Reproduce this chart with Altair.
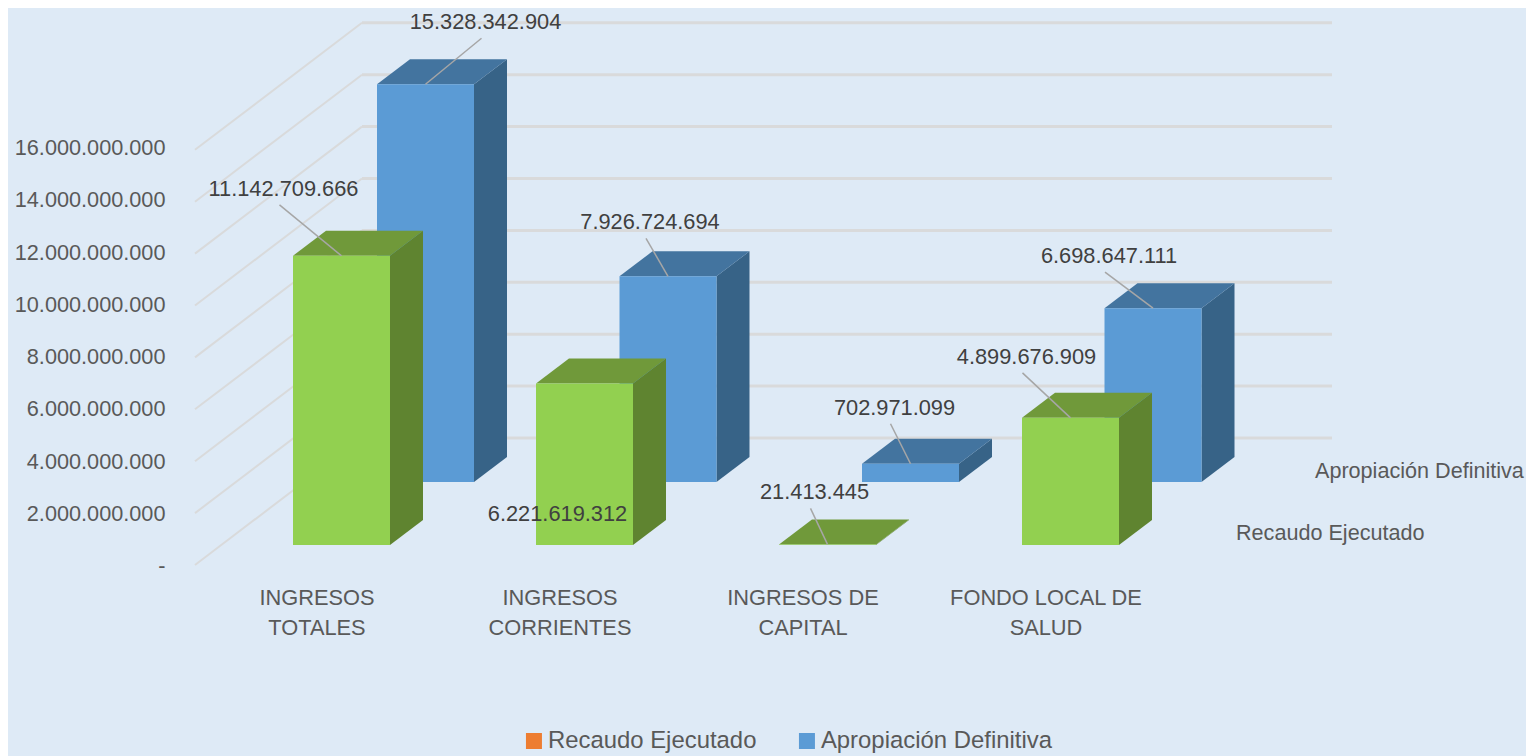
import altair as alt
import pandas as pd

# ---- values ----
categories = ["INGRESOS\nTOTALES", "INGRESOS\nCORRIENTES", "INGRESOS DE\nCAPITAL", "FONDO LOCAL DE\nSALUD"]
recaudo = [11142709666, 6221619312, 21413445, 4899676909]
apropiacion = [15328342904, 7926724694, 702971099, 6698647111]
series_names = ["Recaudo Ejecutado", "Apropiación Definitiva"]
grid_levels = [0, 2e9, 4e9, 6e9, 8e9, 10e9, 12e9, 14e9, 16e9]

# ---- layout (page pixels) ----
FONT = "Liberation Sans"
X0, X1, Y0, Y1 = 170, 1526, 8, 756
PX = 51.9 / 2e9          # pixels per peso for bars / grid
AXIS_PX = 52.25 / 2e9    # pixels per peso for axis labels
FLOOR = 565              # page y of value zero at the front edge of the floor
def lift(page_y):        # height above the floor line, in value units
    return (FLOOR - page_y) / PX

y_scale = alt.Scale(domain=[lift(Y1), lift(Y0)], nice=False, zero=False)
x_scale = alt.Scale(domain=[X0, X1], nice=False, zero=False)
axis_scale = alt.Scale(domain=[(FLOOR - Y1) / AXIS_PX, (FLOOR - Y0) / AXIS_PX], nice=False, zero=False)

X = lambda f="x": alt.X(f"{f}:Q", scale=x_scale, axis=None)
Y = lambda f="y": alt.Y(f"{f}:Q", scale=y_scale, axis=None)

BAR_W, DX, DY = 97, 33, 25
STEP = {"g": 243, "b": 242.5}
front_left = {"g": 293, "b": 377}
base_y = {"g": 545, "b": 482}
colors = {
    "g": ("#92D050", "#70993A", "#5F8430"),
    "b": ("#5B9BD5", "#43749F", "#376387"),
}
# label centre relative to bar top-centre, then whether a leader is drawn
label_off = {
    ("b", 0): (60, -62, True), ("g", 0): (-58, -67, True),
    ("b", 1): (-18, -54, True), ("g", 1): (-27, 130, False),
    ("b", 2): (-16, -56, True), ("g", 2): (-13, -52, True),
    ("b", 3): (-44, -52, True), ("g", 3): (-44, -61, True),
}

fmt = lambda v: f"{v:,}".replace(",", ".")

fronts, sides, tops, labels, leaders = {"g": [], "b": []}, {"g": [], "b": []}, {"g": [], "b": []}, [], []
for key, vals in (("b", apropiacion), ("g", recaudo)):
    for i, v in enumerate(vals):
        xl = front_left[key] + i * STEP[key]
        xr = xl + BAR_W
        base = lift(base_y[key])
        top = base + v
        d = DY / PX
        fronts[key].append(dict(x=xl, x2=xr, y=base, y2=top))
        sides[key] += [dict(bar=i, x=xr, y=top, y2=base), dict(bar=i, x=xr + DX, y=top + d, y2=base + d)]
        tops[key] += [dict(bar=i, x=xl, x2=xr, y=top), dict(bar=i, x=xl + DX, x2=xr + DX, y=top + d)]
        ox, oy, has_leader = label_off[(key, i)]
        cx = (xl + xr) / 2
        labels.append(dict(x=cx + ox, y=top - oy / PX, t=fmt(v)))
        if has_leader:
            leaders.append(dict(x=cx + ox - 4, y=top - (oy + 16) / PX, x2=cx, y2=top))

layers = []

# floor / wall grid lines
WALL_L, WALL_R, BACK_UP, FLOOR_L = 362, 1332, 127, 195
wall = pd.DataFrame([dict(x=WALL_L, x2=WALL_R, y=g + BACK_UP / PX, y2=g + BACK_UP / PX) for g in grid_levels])
diag = pd.DataFrame([dict(x=FLOOR_L, x2=WALL_L, y=g, y2=g + BACK_UP / PX) for g in grid_levels])
for df, w in ((wall, 3), (diag, 2)):
    layers.append(alt.Chart(df).mark_rule(color="#D9DADB", strokeWidth=w).encode(
        x=X(), x2="x2:Q", y=Y(), y2="y2:Q"))

for key in ("b", "g"):
    c_front, c_top, c_side = colors[key]
    layers.append(alt.Chart(pd.DataFrame(sides[key])).mark_area(color=c_side, orient="vertical").encode(
        x=X(), y=Y(), y2="y2:Q", detail="bar:N"))
    layers.append(alt.Chart(pd.DataFrame(tops[key])).mark_area(color=c_top, orient="horizontal").encode(
        y=Y(), x=X(), x2="x2:Q", detail="bar:N"))
    layers.append(alt.Chart(pd.DataFrame(fronts[key])).mark_rect(color=c_front).encode(
        x=X(), x2="x2:Q", y=Y(), y2="y2:Q"))

layers.append(alt.Chart(pd.DataFrame(leaders)).mark_rule(color="#A6A6A6", strokeWidth=1.5).encode(
    x=X(), x2="x2:Q", y=Y(), y2="y2:Q"))
layers.append(alt.Chart(pd.DataFrame(labels)).mark_text(
    font=FONT, fontSize=21.8, color="#404040", align="center", baseline="middle").encode(
    x=X(), y=Y(), text="t:N"))

# category labels under the floor
cat_df = pd.DataFrame([dict(x=317 + i * STEP["g"], y=lift(598), t=c) for i, c in enumerate(categories)])
layers.append(alt.Chart(cat_df).mark_text(
    font=FONT, fontSize=21.8, color="#595959", align="center", baseline="middle", lineBreak="\n", lineHeight=30).encode(
    x=X(), y=Y(), text="t:N"))

# depth-axis series labels
ser_df = pd.DataFrame([dict(x=1236, y=lift(534), t=series_names[0]), dict(x=1315, y=lift(472), t=series_names[1])])
layers.append(alt.Chart(ser_df).mark_text(
    font=FONT, fontSize=21.6, color="#595959", align="left", baseline="middle").encode(
    x=X(), y=Y(), text="t:N"))

# value axis
axis_df = pd.DataFrame(dict(v=grid_levels, x=[X0] * len(grid_levels)))
layers.append(alt.Chart(axis_df).mark_point(opacity=0).encode(
    x=X(),
    y=alt.Y("v:Q", scale=axis_scale, axis=alt.Axis(
        values=grid_levels, title=None, domain=False, ticks=False, grid=False,
        labelFont=FONT, labelFontSize=21.7, labelColor="#595959", labelPadding=5, labelOffset=0.5,
        labelExpr="datum.value === 0 ? '-' : replace(format(datum.value, ','), regexp(',', 'g'), '.')")),
))

# legend
leg_df = pd.DataFrame(dict(s=series_names, x=[X0, X0], y=[0, 0]))
layers.append(alt.Chart(leg_df).mark_square(opacity=0, size=256).encode(
    x=X(), y=Y(),
    color=alt.Color("s:N", scale=alt.Scale(domain=series_names, range=["#ED7D31", "#5B9BD5"]),
                    legend=alt.Legend(
                        title=None, orient="none", direction="horizontal",
                        legendX=524 - X0 - 2, legendY=729 - Y0,
                        symbolType="square", symbolSize=256, symbolOpacity=1, symbolStrokeWidth=0,
                        labelFont=FONT, labelFontSize=23.9, labelColor="#595959", labelLimit=400,
                        labelOffset=2, columnPadding=38)),
))

chart = alt.layer(*layers).resolve_scale(y="independent").properties(
    width=X1 - X0, height=Y1 - Y0,
    background="#DEEAF6",
    autosize=alt.AutoSizeParams(type="none"),
    padding={"left": X0 - 8, "top": 0, "right": 0, "bottom": 0},
).configure_view(stroke=None)

chart.save("out.html", embed_options={"renderer": "svg", "actions": False})
